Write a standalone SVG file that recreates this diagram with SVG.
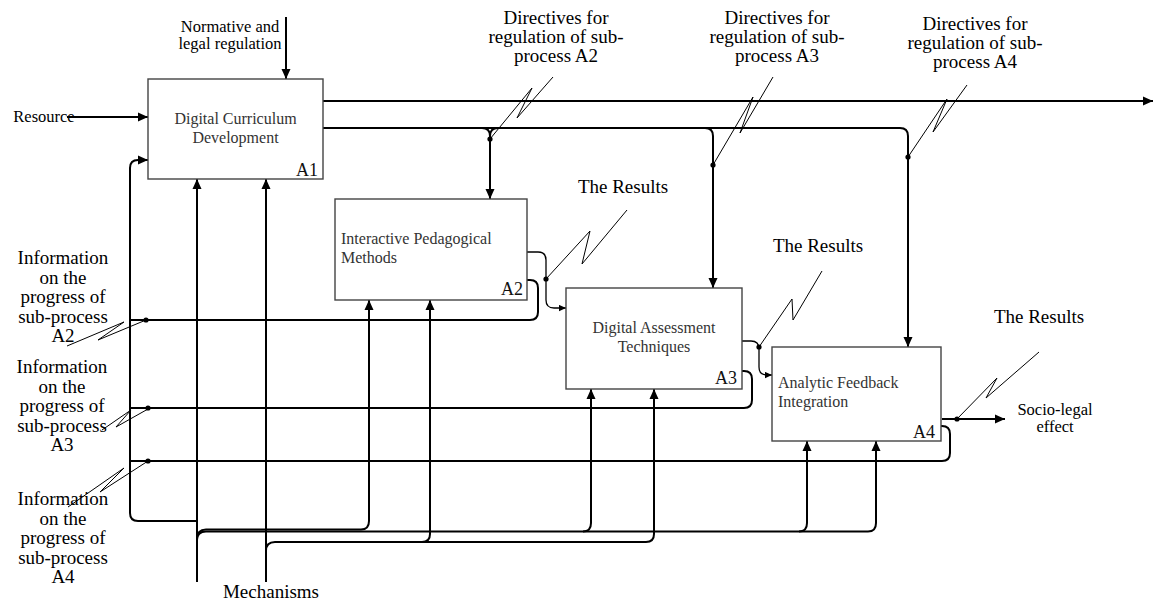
<svg xmlns="http://www.w3.org/2000/svg" width="1154" height="603" viewBox="0 0 1154 603">
<style>
.box{fill:#fff;stroke:#444;stroke-width:1.4}
.bt{font-family:"Liberation Serif",serif;font-size:16px;fill:#333}
.bn{font-family:"Liberation Serif",serif;font-size:18px;fill:#111;text-anchor:end}
.lb{font-family:"Liberation Serif",serif;font-size:19px;fill:#000;text-anchor:middle}
.ls{font-family:"Liberation Serif",serif;font-size:16.5px;fill:#000;text-anchor:middle}
.c{fill:none;stroke:#000;stroke-width:2}
.ct{fill:none;stroke:#000;stroke-width:1.3}
.sq{fill:none;stroke:#000;stroke-width:1}
.dot{fill:#000}
</style>
<defs>
<marker id="a" viewBox="0 0 10 10" refX="10" refY="5" markerWidth="10" markerHeight="10" markerUnits="userSpaceOnUse" orient="auto"><path d="M0,0.5 L10,5 L0,9.5 z" fill="#000"/></marker>
<marker id="as" viewBox="0 0 10 10" refX="10" refY="5" markerWidth="7" markerHeight="7" markerUnits="userSpaceOnUse" orient="auto"><path d="M0,0.5 L10,5 L0,9.5 z" fill="#000"/></marker>
</defs>

<g id="connectors">
<path class="c" d="M286,17 L286,79" marker-end="url(#a)"/>
<path class="c" d="M67,117 L148,117" marker-end="url(#a)"/>
<path class="c" d="M130,513 L130,168 Q130,160 138,160 L148,160" marker-end="url(#a)"/>
<path class="c" d="M130,513 Q130,521 138,521 L197,521"/>
<path class="c" d="M323,101 L1153,101" marker-end="url(#a)"/>
<path class="c" d="M323,128 L900,128 Q908,128 908,136 L908,347" marker-end="url(#a)"/>
<path class="c" d="M482,128 Q490,128 490,136 L490,199" marker-end="url(#a)"/>
<path class="c" d="M498,128 Q490,128 490,136"/>
<path class="c" d="M705,128 Q713,128 713,136 L713,288" marker-end="url(#a)"/>
<path class="c" d="M197,582 L197,179" marker-end="url(#a)"/>
<path class="c" d="M266,582 L266,179" marker-end="url(#a)"/>
<path class="c" d="M197,539 Q197,529.5 206,529.5 L361,529.5 Q369,529.5 369,521 L369,300" marker-end="url(#a)"/>
<path class="c" d="M197,540 Q197,531.5 206,531.5 L583,531.5 Q591,531.5 591,523 L591,389" marker-end="url(#a)"/>
<path class="c" d="M583,531.5 L799,531.5 Q807,531.5 807,523 L807,441" marker-end="url(#a)"/>
<path class="c" d="M799,531.5 L868,531.5 Q876,531.5 876,523 L876,441" marker-end="url(#a)"/>
<path class="c" d="M266,551 Q266,542 275,542 L422,542 Q430,542 430,534 L430,300" marker-end="url(#a)"/>
<path class="c" d="M422,542 L646,542 Q654,542 654,534 L654,389" marker-end="url(#a)"/>
<path class="c" d="M130,320 L530,320 Q538,320 538,312 L538,288 Q538,280 530,280 L527,280"/>
<path class="c" d="M130,408 L744,408 Q752,408 752,400 L752,379 Q752,371 744,371 L742,371"/>
<path class="c" d="M130,461 L942,461 Q950,461 950,453 L950,434 Q950,426 942,426 L941,426"/>
<path class="ct" d="M527,252 L538,252 Q546,252 546,260 L546,300 Q546,308 554,308 L566,308" marker-end="url(#as)"/>
<path class="ct" d="M742,341 L751,341 Q759,341 759,349 L759,367 Q759,375 767,375 L772,375" marker-end="url(#as)"/>
<path class="c" d="M942,419 L1005,419" marker-end="url(#a)"/>
<path class="sq" d="M553,77 L517,118 L532,88 L490,139"/>
<path class="sq" d="M773,77 L740,133 L753,97 L713,165"/>
<path class="sq" d="M967,85 L933,132 L947,99 L908,157"/>
<path class="sq" d="M146,320 L98,340 L124,322 L67,346"/>
<path class="sq" d="M148,409 L116,427 L131,410 L102,430"/>
<path class="sq" d="M148,461 L100,492 L124,468 L68,507"/>
<path class="sq" d="M546,279 L590,231 L582,264 L627,210"/>
<path class="sq" d="M759,347 L792,299 L793,320 L822,271"/>
<path class="sq" d="M957,419 L997,378 L986,398 L1039,352"/>
<circle class="dot" cx="490" cy="139" r="2.6"/>
<circle class="dot" cx="713" cy="165" r="2.6"/>
<circle class="dot" cx="908" cy="157" r="2.6"/>
<circle class="dot" cx="146" cy="320" r="2.6"/>
<circle class="dot" cx="148" cy="408" r="2.6"/>
<circle class="dot" cx="148" cy="461" r="2.6"/>
<circle class="dot" cx="546" cy="279" r="2.6"/>
<circle class="dot" cx="759" cy="347" r="2.6"/>
<circle class="dot" cx="957" cy="419" r="2.6"/>
</g>

<g id="A1">
<rect class="box" x="148" y="79" width="175" height="100"/>
<text class="bt" x="235.5" y="124" text-anchor="middle">Digital Curriculum</text>
<text class="bt" x="235.5" y="143" text-anchor="middle">Development</text>
<text class="bn" x="318" y="176">A1</text>
</g>
<g id="A2">
<rect class="box" x="335" y="199" width="192" height="101"/>
<text class="bt" x="341" y="244">Interactive Pedagogical</text>
<text class="bt" x="341" y="263">Methods</text>
<text class="bn" x="523" y="295">A2</text>
</g>
<g id="A3">
<rect class="box" x="566" y="288" width="176" height="101"/>
<text class="bt" x="654" y="333" text-anchor="middle">Digital Assessment</text>
<text class="bt" x="654" y="352" text-anchor="middle">Techniques</text>
<text class="bn" x="737" y="384">A3</text>
</g>
<g id="A4">
<rect class="box" x="772" y="347" width="169" height="94"/>
<text class="bt" x="778" y="388">Analytic Feedback</text>
<text class="bt" x="778" y="407">Integration</text>
<text class="bn" x="935" y="438">A4</text>
</g>

<g id="labels">
<text class="ls" x="230" y="32">Normative and</text>
<text class="ls" x="230" y="49">legal regulation</text>
<text class="ls" x="44" y="122">Resource</text>
<text class="lb" x="556" y="24">Directives for</text>
<text class="lb" x="556" y="43">regulation of sub-</text>
<text class="lb" x="556" y="62">process A2</text>
<text class="lb" x="777" y="24">Directives for</text>
<text class="lb" x="777" y="43">regulation of sub-</text>
<text class="lb" x="777" y="62">process A3</text>
<text class="lb" x="975" y="30">Directives for</text>
<text class="lb" x="975" y="49">regulation of sub-</text>
<text class="lb" x="975" y="68">process A4</text>
<text class="lb" x="623" y="193">The Results</text>
<text class="lb" x="818" y="252">The Results</text>
<text class="lb" x="1039" y="323">The Results</text>
<text class="ls" x="1055" y="415">Socio-legal</text>
<text class="ls" x="1055" y="432">effect</text>
<text class="lb" x="271" y="598">Mechanisms</text>
<text class="lb" x="63" y="264">Information</text>
<text class="lb" x="63" y="283.5">on the</text>
<text class="lb" x="63" y="303">progress of</text>
<text class="lb" x="63" y="322.5">sub-process</text>
<text class="lb" x="63" y="342">A2</text>
<text class="lb" x="62" y="373">Information</text>
<text class="lb" x="62" y="392.5">on the</text>
<text class="lb" x="62" y="412">progress of</text>
<text class="lb" x="62" y="431.5">sub-process</text>
<text class="lb" x="62" y="451">A3</text>
<text class="lb" x="63" y="505">Information</text>
<text class="lb" x="63" y="524.5">on the</text>
<text class="lb" x="63" y="544">progress of</text>
<text class="lb" x="63" y="563.5">sub-process</text>
<text class="lb" x="63" y="583">A4</text>
</g>
</svg>
